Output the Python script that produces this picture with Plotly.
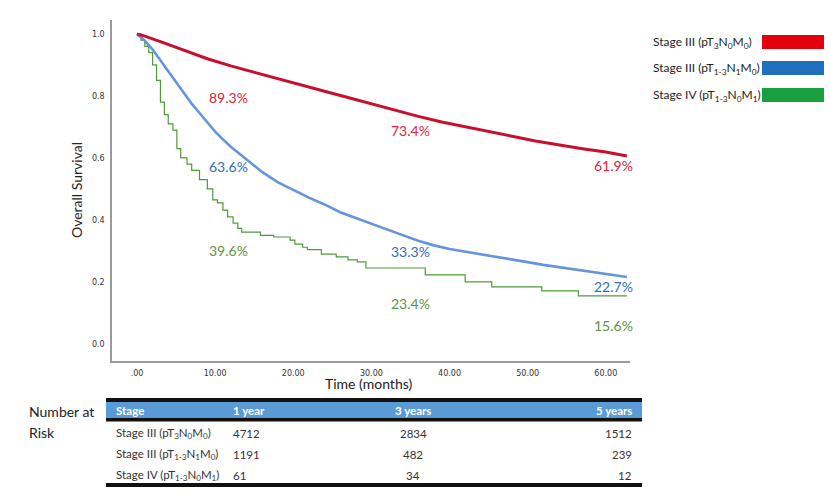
import plotly.graph_objects as go

# ---------------- data ----------------
stage_names = [
    "Stage III (pT<sub>3</sub>N<sub>0</sub>M<sub>0</sub>)",
    "Stage III (pT<sub>1-3</sub>N<sub>1</sub>M<sub>0</sub>)",
    "Stage IV (pT<sub>1-3</sub>N<sub>0</sub>M<sub>1</sub>)",
]

red_t = [0, 1, 3, 6, 9, 12, 15, 18, 21, 24, 27, 30, 33, 36, 39, 42, 45, 48, 51, 54, 57, 60, 62.7]
red_s = [1.0, 0.993, 0.975, 0.948, 0.920, 0.897, 0.876, 0.855, 0.835, 0.815, 0.795, 0.775, 0.753,
         0.734, 0.716, 0.700, 0.685, 0.670, 0.655, 0.642, 0.630, 0.619, 0.606]

blue_t = [0, 1, 2, 3, 4, 5, 6, 7, 8, 9, 10, 11, 12, 13, 14, 15, 16, 18, 20, 22, 24, 26, 28, 30,
          32, 34, 36, 38, 40, 42, 44, 46, 48, 50, 52, 54, 56, 58, 60, 62.7]
blue_s = [1.0, 0.978, 0.950, 0.915, 0.880, 0.845, 0.808, 0.775, 0.745, 0.715, 0.685, 0.660, 0.636,
          0.616, 0.595, 0.575, 0.555, 0.522, 0.497, 0.472, 0.450, 0.425, 0.406, 0.387, 0.369, 0.351,
          0.333, 0.318, 0.306, 0.298, 0.290, 0.281, 0.273, 0.264, 0.255, 0.248, 0.240, 0.234, 0.227, 0.216]

green_t = [0, 0.5, 1.0, 1.5, 2.0, 2.5, 3.0, 3.5, 4.0, 4.6, 5.1, 5.6, 6.4, 7.0, 8.0, 9.0, 9.7, 10.3,
           11.0, 11.6, 12.3, 12.9, 13.4, 15.8, 17.5, 19.6, 20.2, 21.2, 21.8, 23.6, 25.5, 27.0, 28.2,
           29.3, 36.9, 42.0, 45.4, 51.8, 56.5, 62.7]
green_s = [1.0, 0.98, 0.96, 0.94, 0.90, 0.85, 0.78, 0.74, 0.71, 0.69, 0.63, 0.60, 0.58, 0.56, 0.53,
           0.50, 0.465, 0.455, 0.432, 0.41, 0.39, 0.373, 0.361, 0.350, 0.345, 0.335, 0.322, 0.312,
           0.304, 0.290, 0.281, 0.271, 0.265, 0.245, 0.223, 0.200, 0.184, 0.171, 0.155, 0.155]

pct_1y = ["89.3%", "63.6%", "39.6%"]
pct_3y = ["73.4%", "33.3%", "23.4%"]
pct_5y = ["61.9%", "22.7%", "15.6%"]

x_tickvals = [0, 10, 20, 30, 40, 50, 60]
x_ticktext = [".00", "10.00", "20.00", "30.00", "40.00", "50.00", "60.00"]
y_tickvals = [0.0, 0.2, 0.4, 0.6, 0.8, 1.0]
y_ticktext = ["0.0", "0.2", "0.4", "0.6", "0.8", "1.0"]

table_header = ["Stage", "1 year", "3 years", "5 years"]
risk_1y = ["4712", "1191", "61"]
risk_3y = ["2834", "482", "34"]
risk_5y = ["1512", "239", "12"]

# ---------------- styles ----------------
curve_colors = ["#c8102e", "#6495da", "#4f9a3a"]
text_colors = ["#e0223a", "#2e6fb7", "#5f9440"]
swatch_colors = ["#e3000f", "#1f6fbf", "#17a03c"]
FONT = "Lato"

# plot area in pixels
L, R, T, B = 112, 630, 20, 361
W, H = R - L, B - T


def px(x):
    return (x - L) / W


def py(y):
    return (B - y) / H


fig = go.Figure()
fig.add_trace(go.Scatter(x=green_t, y=green_s, mode="lines", line=dict(color=curve_colors[2], width=1.2, shape="hv"),
                         hoverinfo="skip", showlegend=False))
fig.add_trace(go.Scatter(x=blue_t, y=blue_s, mode="lines", line=dict(color=curve_colors[1], width=2.6),
                         hoverinfo="skip", showlegend=False))
fig.add_trace(go.Scatter(x=red_t, y=red_s, mode="lines", line=dict(color=curve_colors[0], width=3),
                         hoverinfo="skip", showlegend=False))

annotations = []
shapes = []

# percentage labels (positions in data coords)
label_pos = {
    0: [(11.65, 0.794), (35.05, 0.690), (61.0, 0.577)],
    1: [(11.65, 0.571), (35.05, 0.297), (61.0, 0.184)],
    2: [(11.65, 0.303), (35.05, 0.129), (61.0, 0.061)],
}
for i in range(3):
    for txt, (lx, ly) in zip([pct_1y[i], pct_3y[i], pct_5y[i]], label_pos[i]):
        annotations.append(dict(x=lx, y=ly, xref="x", yref="y", text=txt, showarrow=False,
                                xanchor="center", yanchor="middle",
                                font=dict(family=FONT, size=14, color=text_colors[i])))

# legend
leg_y = [42, 68, 95]
for i in range(3):
    annotations.append(dict(x=px(651), y=py(leg_y[i]), xref="paper", yref="paper", xanchor="left",
                            yanchor="middle", text=stage_names[i], showarrow=False,
                            font=dict(family=FONT, size=12, color="#222")))
    shapes.append(dict(type="rect", xref="paper", yref="paper", x0=px(762), x1=px(824),
                       y0=py(leg_y[i] + 7), y1=py(leg_y[i] - 7), fillcolor=swatch_colors[i], line_width=0))

# axis titles
annotations.append(dict(x=px(76), y=py(190), xref="paper", yref="paper", text="Overall Survival", textangle=-90,
                        xanchor="center", yanchor="middle",
                        showarrow=False, font=dict(family=FONT, size=14, color="#222")))
annotations.append(dict(x=px(368), y=py(383), xref="paper", yref="paper", text="Time (months)",
                        xanchor="center", yanchor="middle",
                        showarrow=False, font=dict(family=FONT, size=14, color="#222")))

# Number at risk
annotations.append(dict(x=px(27), y=py(411), xref="paper", yref="paper", xanchor="left", yanchor="middle",
                        text="Number at", showarrow=False, font=dict(family=FONT, size=14, color="#222")))
annotations.append(dict(x=px(27), y=py(432), xref="paper", yref="paper", xanchor="left", yanchor="middle",
                        text="Risk", showarrow=False, font=dict(family=FONT, size=14, color="#222")))

# table
TL, TR = 106, 642
shapes.append(dict(type="rect", xref="paper", yref="paper", x0=px(TL), x1=px(TR), y0=py(418), y1=py(402),
                   fillcolor="#5b9bd5", line_width=0))
for (y0, y1) in [(398, 402), (418, 421.5), (483, 487)]:
    shapes.append(dict(type="rect", xref="paper", yref="paper", x0=px(TL), x1=px(TR), y0=py(y1), y1=py(y0),
                       fillcolor="#111", line_width=0))
hdr_y = 410
col_x = [(114, "left"), (231, "left"), (413, "center"), (634, "right")]
for (cx, anc), h in zip(col_x, table_header):
    annotations.append(dict(x=px(cx), y=py(hdr_y), xref="paper", yref="paper", xanchor=anc, yanchor="middle",
                            text="<b>%s</b>" % h, showarrow=False,
                            font=dict(family=FONT, size=11.5, color="white")))
row_y = [433, 454, 475]
for r in range(3):
    vals = [stage_names[r], risk_1y[r], risk_3y[r], risk_5y[r]]
    for (cx, anc), v in zip(col_x, vals):
        annotations.append(dict(x=px(cx), y=py(row_y[r]), xref="paper", yref="paper", xanchor=anc,
                                yanchor="middle", text=v, showarrow=False,
                                font=dict(family=FONT, size=11.5, color="#333")))

fig.update_layout(
    width=831, height=497,
    margin=dict(l=L, r=831 - R, t=T, b=497 - B),
    paper_bgcolor="white", plot_bgcolor="white",
    annotations=annotations, shapes=shapes,
    xaxis=dict(range=[-3.2, 63.1], tickvals=x_tickvals, ticktext=x_ticktext, showgrid=False, zeroline=False,
               showline=True, linecolor="#9a9a9a", linewidth=1.5, ticks="", ticklen=0, ticklabelstandoff=4,
               tickfont=dict(family="DejaVu Sans", size=8, color="#333")),
    yaxis=dict(range=[-0.055, 1.045], tickvals=y_tickvals, ticktext=y_ticktext, showgrid=False, zeroline=False,
               showline=True, linecolor="#9a9a9a", linewidth=1.5, ticks="", ticklen=0, ticklabelstandoff=4,
               tickfont=dict(family="DejaVu Sans", size=8, color="#333")),
)

fig.write_html("out.html")
